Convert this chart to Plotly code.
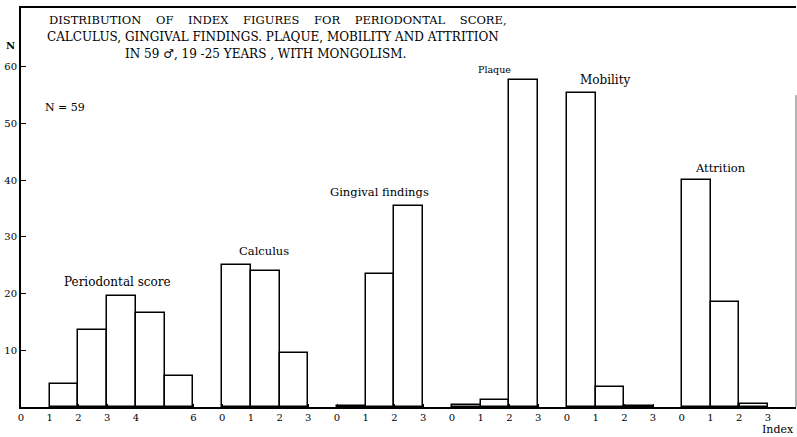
import plotly.graph_objects as go

# ---------------- data ----------------
group_names = ["Periodontal score", "Calculus", "Gingival findings", "Plaque", "Mobility", "Attrition"]

periodontal_ticks = ["0", "1", "2", "3", "4", "", "6"]
calculus_ticks = ["0", "1", "2", "3"]
gingival_ticks = ["0", "1", "2", "3"]
plaque_ticks = ["0", "1", "2", "3"]
mobility_ticks = ["0", "1", "2", "3"]
attrition_ticks = ["0", "1", "2", "3"]

# index value (left edge of class) and number of individuals
periodontal_index = [1, 2, 3, 4, 5]
periodontal_n = [4, 13.5, 19.5, 16.5, 5.5]
calculus_index = [0, 1, 2]
calculus_n = [25, 24, 9.6]
gingival_index = [0, 1, 2]
gingival_n = [0.2, 23.5, 35.5]
plaque_index = [0, 1, 2]
plaque_n = [0.3, 1.2, 57.6]
mobility_index = [0, 1, 2]
mobility_n = [55.4, 3.5, 0.2]
attrition_index = [0, 1, 2]
attrition_n = [40, 18.6, 0.5]

y_ticks = [10, 20, 30, 40, 50, 60]

# ---------------- figure ----------------
W, H = 797, 437
ML, MR, MT, MB = 21, 1, 8, 30
PW, PH = W - ML - MR, H - MT - MB

tick_sets = [periodontal_ticks, calculus_ticks, gingival_ticks, plaque_ticks, mobility_ticks, attrition_ticks]
index_sets = [periodontal_index, calculus_index, gingival_index, plaque_index, mobility_index, attrition_index]
value_sets = [periodontal_n, calculus_n, gingival_n, plaque_n, mobility_n, attrition_n]

offsets = []
acc = 0
for t in tick_sets:
    offsets.append(acc)
    acc += len(t)

tickvals, ticktext = [], []
for off, t in zip(offsets, tick_sets):
    for i, lab in enumerate(t):
        tickvals.append(off + i)
        ticktext.append(lab)

fig = go.Figure()
for name, off, idx, vals in zip(group_names, offsets, index_sets, value_sets):
    fig.add_trace(go.Bar(
        x=[off + i + 0.5 for i in idx], y=vals, width=1, name=name,
        marker=dict(color="white", line=dict(color="black", width=1.5)),
        showlegend=False, hoverinfo="y+name",
    ))

FONT = "DejaVu Serif"

def px(x, y):
    return (x - ML) / PW, (H - MB - y) / PH

annots = []
def add_text(text, x, y, size=11, xanchor="center"):
    ax, ay = px(x, y)
    annots.append(dict(text=text, x=ax, y=ay, xref="paper", yref="paper",
                       xanchor=xanchor, yanchor="middle", showarrow=False,
                       font=dict(family=FONT, size=size, color="black")))

sp = "\u00a0" * 4
add_text(sp.join(["DISTRIBUTION", "OF", "INDEX", "FIGURES", "FOR", "PERIODONTAL", "SCORE,"]), 47, 20, 11.5, "left")
add_text("CALCULUS, GINGIVAL FINDINGS. PLAQUE, MOBILITY AND ATTRITION", 45, 37, 12, "left")
add_text("IN 59 \u2642, 19 -25 YEARS , WITH MONGOLISM.", 265, 54, 12, "center")
add_text("<b>N</b>", 10, 45, 10)
add_text("N = 59", 43, 107, 11, "left")
add_text("Periodontal score", 117, 282, 12)
add_text("Calculus", 264, 251, 11.5)
add_text("Gingival findings", 379, 192, 11.5)
add_text("Plaque", 495, 69, 9.5)
add_text("Mobility", 605, 80, 12)
add_text("Attrition", 720, 168, 11.5)
add_text("Index", 796, 429, 11, "right")

fig.update_layout(
    width=W, height=H,
    margin=dict(l=ML, r=MR, t=MT, b=MB, pad=0),
    paper_bgcolor="white", plot_bgcolor="white",
    bargap=0,
    annotations=annots,
    shapes=[dict(type="line", xref="paper", yref="y", x0=1, x1=1, y0=0, y1=55,
                 line=dict(color="#666", width=1))],
    xaxis=dict(range=[0, PW / 28.73], tickmode="array", tickvals=tickvals, ticktext=ticktext,
               ticks="inside", ticklen=3, tickcolor="black", showline=True, linecolor="black",
               linewidth=2, mirror=True, showgrid=False, zeroline=False, automargin=False,
               tickfont=dict(family=FONT, size=10, color="black")),
    yaxis=dict(range=[0, PH / 5.67], tickmode="array", tickvals=y_ticks,
               ticks="inside", ticklen=5, tickcolor="black", showline=True, linecolor="black",
               linewidth=2, showgrid=False, zeroline=False, automargin=False,
               tickfont=dict(family=FONT, size=10, color="black")),
)

fig.write_html("out.html", config={"displayModeBar": False},
               post_script="document.body.style.margin='0';document.body.style.overflow='hidden';")
